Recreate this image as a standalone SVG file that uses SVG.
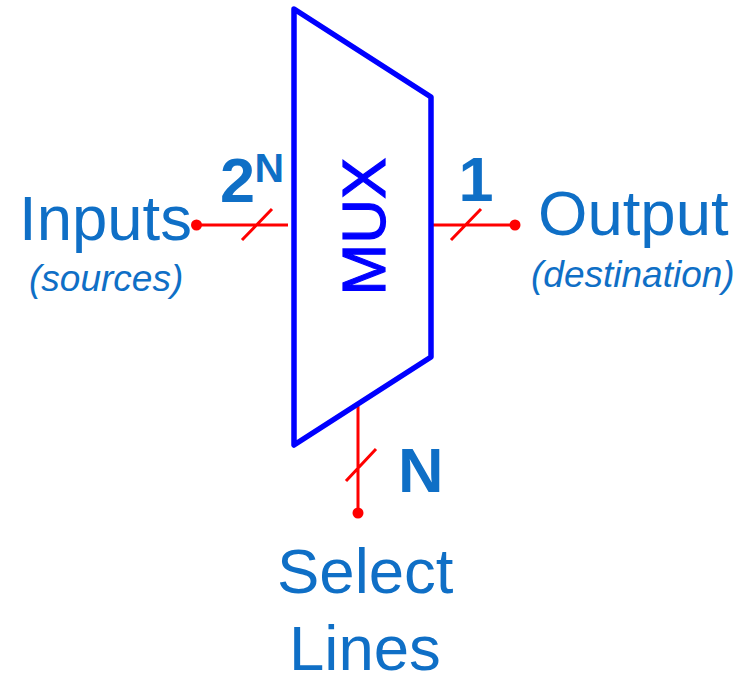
<svg xmlns="http://www.w3.org/2000/svg" width="750" height="673" viewBox="0 0 750 673">
<style>
text{font-family:"Liberation Sans",Arial,sans-serif;fill:#0f6fc6}
.big{font-size:63.5px}
.sub{font-size:37px;font-style:italic}
.bold{font-weight:bold}
.w{stroke:#ff0000;stroke-width:3;fill:none}
.d{fill:#ff0000}
</style>
<rect width="750" height="673" fill="#fff"/>
<g id="connectors">
<path class="w" d="M197 225H288M242 240L272 209"/><circle class="d" cx="196.500" cy="225" r="5.500"/>
<path class="w" d="M432 225H515M451 240L481 209"/><circle class="d" cx="515" cy="225" r="5.500"/>
<path class="w" d="M358 404V513M346 481L376 449"/><circle class="d" cx="358" cy="513" r="5.500"/>
</g>
<g id="mux">
<path d="M294 9L431 97V357L294 445Z" fill="#fff" stroke="#0000ff" stroke-width="5.500" stroke-linejoin="round"/>
<text transform="translate(385 295.500) rotate(-90)" style="fill:#0000ff;stroke:#0000ff;stroke-width:1.200;font-size:62px">MUX</text>
</g>
<g id="inputs"><text class="big" x="19" y="240">Inputs</text><text class="sub" x="29" y="291">(sources)</text><text class="bold" x="220" y="202" style="font-size:63px">2</text><text class="bold" x="254.500" y="182" style="font-size:41px">N</text></g>
<g id="output"><text class="big" x="538" y="235">Output</text><text class="sub" x="531" y="287">(destination)</text><text class="bold" x="458.500" y="201" style="font-size:63px">1</text></g>
<g id="select"><text class="big" x="277" y="593">Select</text><text class="big" x="289" y="670">Lines</text><text class="bold" x="398" y="492" style="font-size:63px">N</text></g>
</svg>
